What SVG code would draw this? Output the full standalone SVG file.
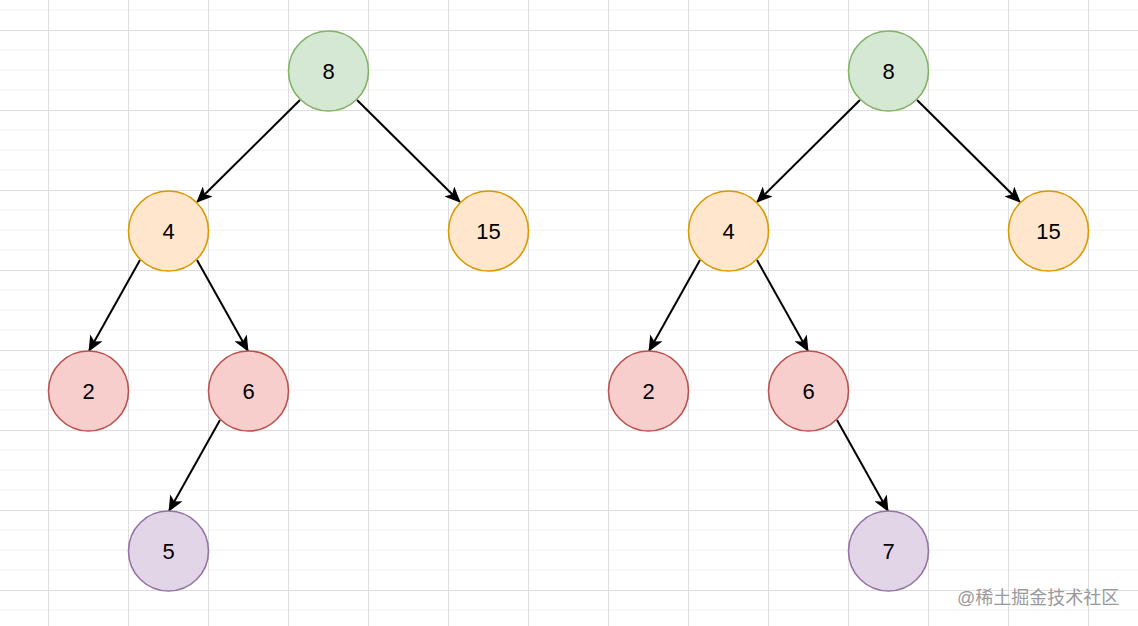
<svg xmlns="http://www.w3.org/2000/svg" width="1138" height="626" viewBox="0 0 1138 626">
  <style>
    .minor { stroke: #f0f0f0; stroke-width: 1; }
    .major { stroke: #dedede; stroke-width: 1; }
    .n circle { stroke-width: 1.6; }
    .g circle { fill: #d5e8d4; stroke: #82b366; }
    .o circle { fill: #ffe6cc; stroke: #d79b00; }
    .r circle { fill: #f8cecc; stroke: #b85450; }
    .p circle { fill: #e1d5e7; stroke: #9673a6; }
    .n text { font-family: "Liberation Sans", Arial, sans-serif; font-size: 22px; fill: #000; text-anchor: middle; }
    #edges line { stroke: #000; stroke-width: 2; marker-end: url(#arrow); }
    .wm { font-family: "Liberation Sans", "Noto Sans CJK SC", sans-serif; font-size: 18px; fill: #9a9a9a; }
  </style>
  <defs>
    <marker id="arrow" viewBox="0 0 16 14" refX="15" refY="7" markerWidth="16" markerHeight="14" markerUnits="userSpaceOnUse" orient="auto">
      <path d="M0,0 L16,7 L0,14 L4,7 Z" fill="#000"/>
    </marker>
  </defs>
  <rect width="1138" height="626" fill="#ffffff"/>
  <g id="grid">
    <g class="minor">
      <line x1="0" y1="10" x2="1138" y2="10"/><line x1="0" y1="50" x2="1138" y2="50"/><line x1="0" y1="70" x2="1138" y2="70"/><line x1="0" y1="90" x2="1138" y2="90"/>
      <line x1="0" y1="130" x2="1138" y2="130"/><line x1="0" y1="150" x2="1138" y2="150"/><line x1="0" y1="170" x2="1138" y2="170"/>
      <line x1="0" y1="210" x2="1138" y2="210"/><line x1="0" y1="230" x2="1138" y2="230"/><line x1="0" y1="250" x2="1138" y2="250"/>
      <line x1="0" y1="290" x2="1138" y2="290"/><line x1="0" y1="310" x2="1138" y2="310"/><line x1="0" y1="330" x2="1138" y2="330"/>
      <line x1="0" y1="370" x2="1138" y2="370"/><line x1="0" y1="390" x2="1138" y2="390"/><line x1="0" y1="410" x2="1138" y2="410"/>
      <line x1="0" y1="450" x2="1138" y2="450"/><line x1="0" y1="470" x2="1138" y2="470"/><line x1="0" y1="490" x2="1138" y2="490"/>
      <line x1="0" y1="530" x2="1138" y2="530"/><line x1="0" y1="550" x2="1138" y2="550"/><line x1="0" y1="570" x2="1138" y2="570"/>
      <line x1="0" y1="610" x2="1138" y2="610"/>
    </g>
    <g class="major">
      <line x1="0" y1="30.5" x2="1138" y2="30.5"/><line x1="0" y1="110.5" x2="1138" y2="110.5"/><line x1="0" y1="190.5" x2="1138" y2="190.5"/>
      <line x1="0" y1="270.5" x2="1138" y2="270.5"/><line x1="0" y1="350.5" x2="1138" y2="350.5"/><line x1="0" y1="430.5" x2="1138" y2="430.5"/>
      <line x1="0" y1="510.5" x2="1138" y2="510.5"/><line x1="0" y1="590.5" x2="1138" y2="590.5"/>
      <line x1="48.5" y1="0" x2="48.5" y2="626"/><line x1="128.5" y1="0" x2="128.5" y2="626"/><line x1="208.5" y1="0" x2="208.5" y2="626"/>
      <line x1="288.5" y1="0" x2="288.5" y2="626"/><line x1="368.5" y1="0" x2="368.5" y2="626"/><line x1="448.5" y1="0" x2="448.5" y2="626"/>
      <line x1="528.5" y1="0" x2="528.5" y2="626"/><line x1="608.5" y1="0" x2="608.5" y2="626"/><line x1="688.5" y1="0" x2="688.5" y2="626"/>
      <line x1="768.5" y1="0" x2="768.5" y2="626"/><line x1="848.5" y1="0" x2="848.5" y2="626"/><line x1="928.5" y1="0" x2="928.5" y2="626"/>
      <line x1="1008.5" y1="0" x2="1008.5" y2="626"/><line x1="1088.5" y1="0" x2="1088.5" y2="626"/>
    </g>
  </g>
  <g id="edges">
    <line x1="300" y1="100" x2="197" y2="202"/>
    <line x1="357" y1="100" x2="460" y2="202"/>
    <line x1="140" y1="260" x2="89" y2="351"/>
    <line x1="197" y1="260" x2="248" y2="351"/>
    <line x1="220" y1="420" x2="169" y2="511"/>
    <line x1="860" y1="100" x2="757" y2="202"/>
    <line x1="917" y1="100" x2="1020" y2="202"/>
    <line x1="700" y1="260" x2="649" y2="351"/>
    <line x1="757" y1="260" x2="808" y2="351"/>
    <line x1="837" y1="420" x2="888" y2="511"/>
  </g>
  <g id="L8" class="n g"><circle cx="328.5" cy="71" r="40"/><text x="328.5" y="79">8</text></g>
  <g id="L4" class="n o"><circle cx="168.5" cy="231" r="40"/><text x="168.5" y="239">4</text></g>
  <g id="L15" class="n o"><circle cx="488.5" cy="231" r="40"/><text x="488.5" y="239">15</text></g>
  <g id="L2" class="n r"><circle cx="88.5" cy="391" r="40"/><text x="88.5" y="399">2</text></g>
  <g id="L6" class="n r"><circle cx="248.5" cy="391" r="40"/><text x="248.5" y="399">6</text></g>
  <g id="L5" class="n p"><circle cx="168.5" cy="551" r="40"/><text x="168.5" y="559">5</text></g>
  <g id="R8" class="n g"><circle cx="888.5" cy="71" r="40"/><text x="888.5" y="79">8</text></g>
  <g id="R4" class="n o"><circle cx="728.5" cy="231" r="40"/><text x="728.5" y="239">4</text></g>
  <g id="R15" class="n o"><circle cx="1048.5" cy="231" r="40"/><text x="1048.5" y="239">15</text></g>
  <g id="R2" class="n r"><circle cx="648.5" cy="391" r="40"/><text x="648.5" y="399">2</text></g>
  <g id="R6" class="n r"><circle cx="808.5" cy="391" r="40"/><text x="808.5" y="399">6</text></g>
  <g id="R7" class="n p"><circle cx="888.5" cy="551" r="40"/><text x="888.5" y="559">7</text></g>
  <text class="wm" x="957" y="604">@稀土掘金技术社区</text>
</svg>
